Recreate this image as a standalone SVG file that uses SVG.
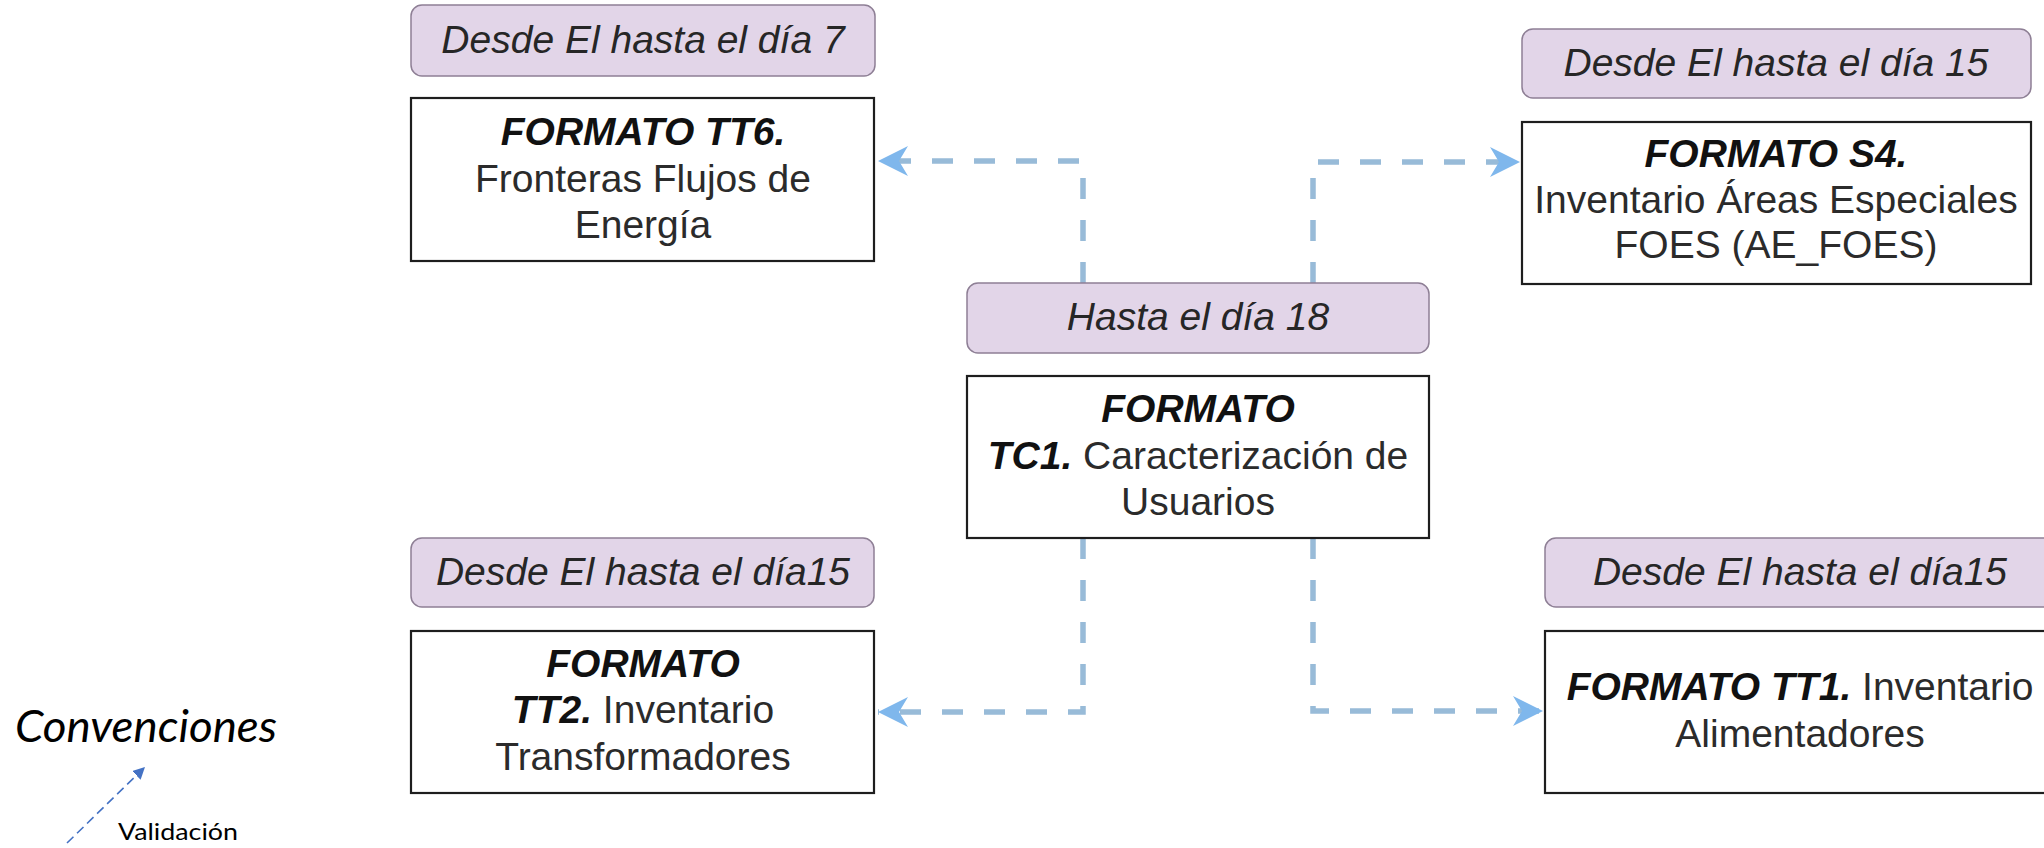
<svg xmlns="http://www.w3.org/2000/svg" width="2044" height="848" viewBox="0 0 2044 848">
<style>
.lbl{fill:#e2d5e8;stroke:#8e7f95;stroke-width:1.5}
.box{fill:#ffffff;stroke:#1e1e1e;stroke-width:2.2}
.t{font-family:"Liberation Sans",Arial,sans-serif;font-size:39px;fill:#2b2b2b;text-anchor:middle}
.li{font-style:italic;fill:#262626}
.b{font-weight:bold;font-style:italic;fill:#111}
.con{fill:none;stroke:#98bbd8;stroke-width:5.5;stroke-dasharray:21 21}
</style>
<defs>
<marker id="ah" markerUnits="userSpaceOnUse" markerWidth="32" markerHeight="32" refX="30" refY="15" orient="auto" viewBox="0 0 32 30">
<path d="M0,0 L30,15 L0,30 L9,15 Z" fill="#7fb7ec"/>
</marker>
<marker id="ah2" markerUnits="userSpaceOnUse" markerWidth="12" markerHeight="12" refX="10" refY="5" orient="auto" viewBox="0 0 10 10">
<path d="M0,0 L10,5 L0,10 Z" fill="#4472c4"/>
</marker>
</defs>
<rect width="2044" height="848" fill="#ffffff"/>
<g id="connectors">
<path class="con" d="M1083,283 V161 H878" marker-end="url(#ah)"/>
<path class="con" d="M1313,283 V162 H1520" marker-end="url(#ah)"/>
<path class="con" d="M1083,538 V712 H878" marker-end="url(#ah)"/>
<path class="con" d="M1313,538 V711 H1543" marker-end="url(#ah)"/>
</g>
<g id="tt6">
<rect class="lbl" x="411" y="5" width="464" height="71" rx="11"/>
<text class="t li" x="643" y="53">Desde El hasta el día 7</text>
<rect class="box" x="411" y="98" width="463" height="163"/>
<text class="t" x="643" y="145"><tspan class="b">FORMATO TT6.</tspan></text>
<text class="t" x="643" y="192">Fronteras Flujos de</text>
<text class="t" x="643" y="238">Energía</text>
</g>
<g id="s4">
<rect class="lbl" x="1522" y="29" width="509" height="69" rx="11"/>
<text class="t li" x="1776" y="76">Desde El hasta el día 15</text>
<rect class="box" x="1522" y="122" width="509" height="162"/>
<text class="t" x="1776" y="167"><tspan class="b">FORMATO S4.</tspan></text>
<text class="t" x="1776" y="213">Inventario Áreas Especiales</text>
<text class="t" x="1776" y="258">FOES (AE_FOES)</text>
</g>
<g id="tc1">
<rect class="lbl" x="967" y="283" width="462" height="70" rx="11"/>
<text class="t li" x="1198" y="330">Hasta el día 18</text>
<rect class="box" x="967" y="376" width="462" height="162"/>
<text class="t" x="1198" y="422"><tspan class="b">FORMATO</tspan></text>
<text class="t" x="1198" y="469"><tspan class="b">TC1.</tspan> Caracterización de</text>
<text class="t" x="1198" y="515">Usuarios</text>
</g>
<g id="tt2">
<rect class="lbl" x="411" y="538" width="463" height="69" rx="11"/>
<text class="t li" x="643" y="585">Desde El hasta el día15</text>
<rect class="box" x="411" y="631" width="463" height="162"/>
<text class="t" x="643" y="677"><tspan class="b">FORMATO</tspan></text>
<text class="t" x="643" y="723"><tspan class="b">TT2.</tspan> Inventario</text>
<text class="t" x="643" y="770">Transformadores</text>
</g>
<g id="tt1">
<rect class="lbl" x="1545" y="538" width="520" height="69" rx="11"/>
<text class="t li" x="1800" y="585">Desde El hasta el día15</text>
<rect class="box" x="1545" y="631" width="520" height="162"/>
<text class="t" x="1800" y="700"><tspan class="b">FORMATO TT1.</tspan> Inventario</text>
<text class="t" x="1800" y="747">Alimentadores</text>
</g>
<g id="convenciones">
<text x="15" y="742" font-family="Lato,'Open Sans',sans-serif" font-style="italic" font-size="45" fill="#000" textLength="262" lengthAdjust="spacingAndGlyphs">Convenciones</text>
<line x1="67" y1="843" x2="145" y2="767" stroke="#4472c4" stroke-width="1.6" stroke-dasharray="9 5" marker-end="url(#ah2)"/>
<text x="118" y="840" font-family="Lato,'Open Sans',sans-serif" font-size="24" fill="#000" textLength="120" lengthAdjust="spacingAndGlyphs">Validación</text>
</g>
</svg>
